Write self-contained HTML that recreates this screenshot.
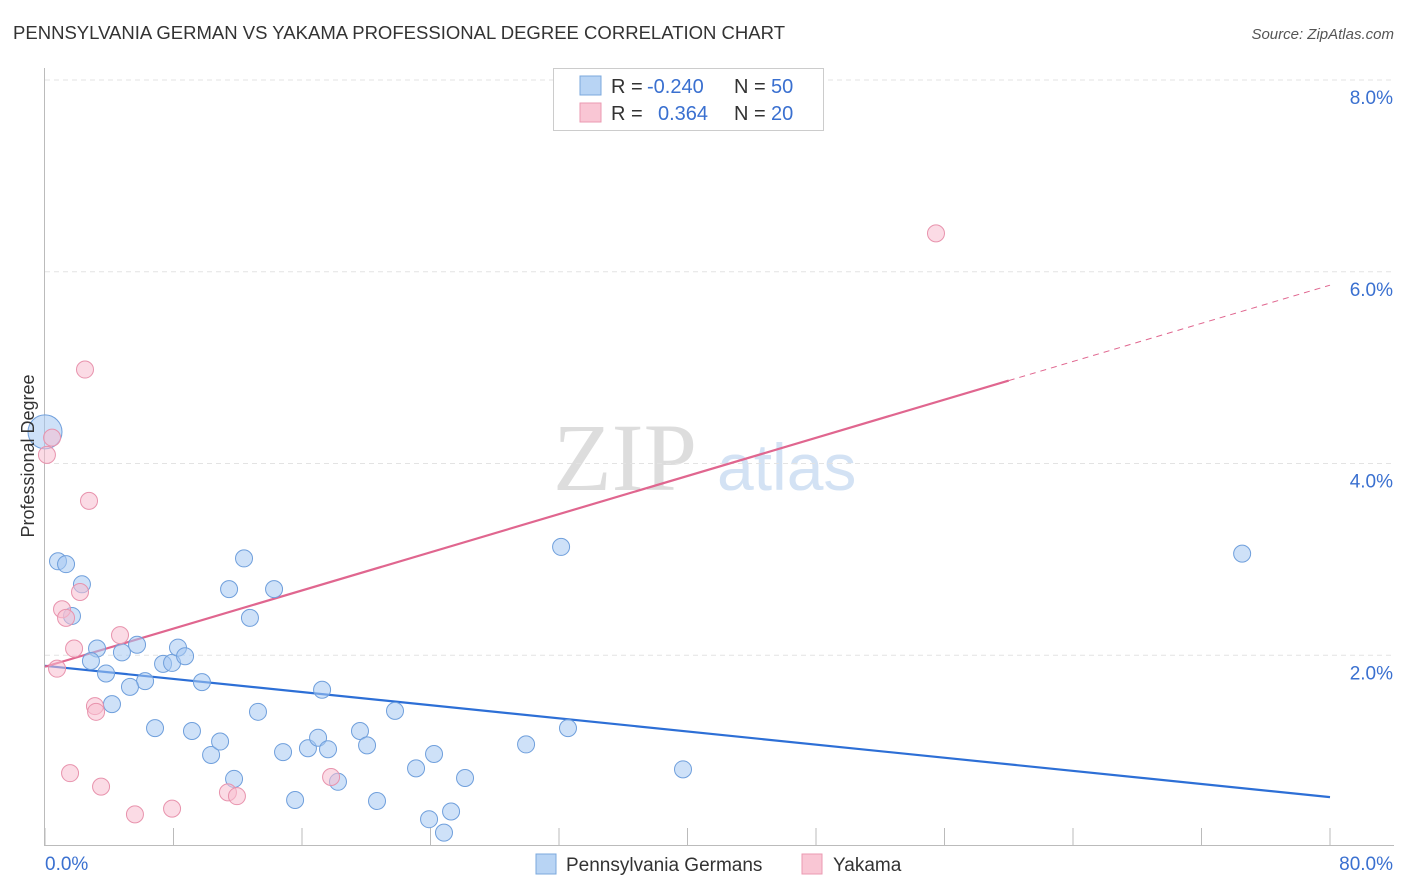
<!DOCTYPE html>
<html><head><meta charset="utf-8"><style>
body{margin:0;background:#fff;font-family:"Liberation Sans",sans-serif;}
</style></head><body>
<svg id="chart" width="1406" height="892" xmlns="http://www.w3.org/2000/svg" style="display:block">
<text x="13" y="39" font-size="18" fill="#333" textLength="772" lengthAdjust="spacingAndGlyphs">PENNSYLVANIA GERMAN VS YAKAMA PROFESSIONAL DEGREE CORRELATION CHART</text>
<text x="1394" y="39" font-size="15" fill="#555" text-anchor="end" font-style="italic">Source: ZipAtlas.com</text>
<text x="553" y="490" font-size="96" font-family="Liberation Serif" fill="#ddd">ZIP</text>
<text x="717" y="490" font-size="66" fill="#d3e2f4">atlas</text>
<g id="grid"></g>
<g id="axes"></g>
<g id="lines"></g>
<g id="points"></g>
<text transform="translate(34,456) rotate(-90)" font-size="18" fill="#333" text-anchor="middle">Professional Degree</text>
<g>
<rect x="553.5" y="68.5" width="270" height="62" fill="#fff" stroke="#ccc"/>
<rect x="580" y="76" width="21" height="19" fill="#b8d4f4" stroke="#7ba8dd"/>
<rect x="580" y="103" width="21" height="19" fill="#f9c6d4" stroke="#eb9ab2"/>
<text x="611" y="93" font-size="20" fill="#333">R =</text>
<text x="647" y="93" font-size="20" fill="#3a70d0">-0.240</text>
<text x="734" y="93" font-size="20" fill="#333">N =</text>
<text x="771" y="93" font-size="20" fill="#3a70d0">50</text>
<text x="611" y="120" font-size="20" fill="#333">R =</text>
<text x="658" y="120" font-size="20" fill="#3a70d0">0.364</text>
<text x="734" y="120" font-size="20" fill="#333">N =</text>
<text x="771" y="120" font-size="20" fill="#3a70d0">20</text>
</g>
<g>
<rect x="536" y="854" width="20" height="20" fill="#b8d4f4" stroke="#7ba8dd"/>
<text x="566" y="871" font-size="19" fill="#333">Pennsylvania Germans</text>
<rect x="802" y="854" width="20" height="20" fill="#f9c6d4" stroke="#eb9ab2"/>
<text x="833" y="871" font-size="19" fill="#333">Yakama</text>
</g>
</svg>
<script>
const blueX=[0,0.81,1.31,2.30,1.68,3.24,2.86,4.79,5.73,3.80,6.23,5.29,4.17,7.35,7.91,8.28,8.72,9.77,6.85,9.15,10.34,10.90,11.77,11.46,12.39,14.26,12.76,13.26,14.82,15.57,16.37,17.00,17.62,17.25,18.24,19.61,20.05,20.67,21.79,23.10,24.22,23.91,24.84,25.28,26.15,29.95,32.13,32.56,39.72,74.53];
const blueY=[4.33,2.98,2.95,2.74,2.41,2.07,1.94,2.03,2.11,1.81,1.73,1.67,1.49,1.91,1.92,2.08,1.99,1.72,1.24,1.21,0.96,1.10,0.71,2.69,3.01,2.69,2.39,1.41,0.99,0.49,1.03,1.14,1.02,1.64,0.68,1.21,1.06,0.48,1.42,0.82,0.97,0.29,0.15,0.37,0.72,1.07,3.13,1.24,0.81,3.06];
const pinkX=[0.12,0.44,2.49,2.74,1.06,1.31,2.18,0.75,1.81,4.67,3.11,3.18,1.56,3.49,5.60,7.91,11.39,11.95,17.81,55.47];
const pinkY=[4.09,4.27,4.98,3.61,2.48,2.39,2.66,1.86,2.07,2.21,1.47,1.41,0.77,0.63,0.34,0.40,0.57,0.53,0.73,6.40];
const yTicks=[2,4,6,8];
const blueLine=[1.89,0.52];
const pinkLine=[1.88,5.86];
const pinkSolidEnd=60;
const NS="http://www.w3.org/2000/svg";
const sx=v=>45+v/80*1285, sy=v=>847-v*95.875;
function mk(p,t,a){const e=document.createElementNS(NS,t);for(const k in a)e.setAttribute(k,a[k]);p.appendChild(e);return e;}
const grid=document.getElementById('grid'),axes=document.getElementById('axes'),lines=document.getElementById('lines'),pts=document.getElementById('points');
yTicks.forEach(t=>{
 const l=mk(grid,'line',{x1:45,x2:1394,y1:sy(t),y2:sy(t),stroke:'#e3e3e3','stroke-dasharray':'5,4'});
 
 
 const tx=mk(axes,'text',{x:1393,y:sy(t)+24,'font-size':19,fill:'#3a70d0','text-anchor':'end'});tx.textContent=t.toFixed(1)+'%';
 
 
});
mk(axes,'line',{x1:44.5,x2:44.5,y1:68,y2:846,stroke:'#bbb'});
mk(axes,'line',{x1:44,x2:1394,y1:845.5,y2:845.5,stroke:'#bbb'});
for(let i=0;i<=10;i++){const x=sx(i*8);mk(axes,'line',{x1:x,x2:x,y1:828,y2:845,stroke:'#bbb'});}
const x0=mk(axes,'text',{x:45,y:870,'font-size':19,fill:'#3a70d0'});x0.textContent='0.0%';


const x1=mk(axes,'text',{x:1393,y:870,'font-size':19,fill:'#3a70d0','text-anchor':'end'});x1.textContent='80.0%';


const bl=mk(lines,'line',{x1:sx(0),y1:sy(blueLine[0]),x2:sx(80),y2:sy(blueLine[1]),stroke:'#2d6fd6','stroke-width':2.2});


const pAt=x=>pinkLine[0]+(pinkLine[1]-pinkLine[0])*x/80;
const pl=mk(lines,'line',{x1:sx(0),y1:sy(pAt(0)),x2:sx(pinkSolidEnd),y2:sy(pAt(pinkSolidEnd)),stroke:'#e0668f','stroke-width':2.2});


const pd=mk(lines,'line',{x1:sx(pinkSolidEnd),y1:sy(pAt(pinkSolidEnd)),x2:sx(80),y2:sy(pAt(80)),stroke:'#e0668f','stroke-width':1,'stroke-dasharray':'6,5'});


blueX.forEach((x,i)=>{const c=mk(pts,'circle',{cx:sx(x),cy:sy(blueY[i]),r:i===0?17:8.5,fill:'rgba(165,200,242,0.55)',stroke:'#6f9fdc','stroke-width':1});
 
 });
pinkX.forEach((x,i)=>{const c=mk(pts,'circle',{cx:sx(x),cy:sy(pinkY[i]),r:8.5,fill:'rgba(248,190,208,0.55)',stroke:'#e893ad','stroke-width':1});
 
 });
</script>
</body></html>
